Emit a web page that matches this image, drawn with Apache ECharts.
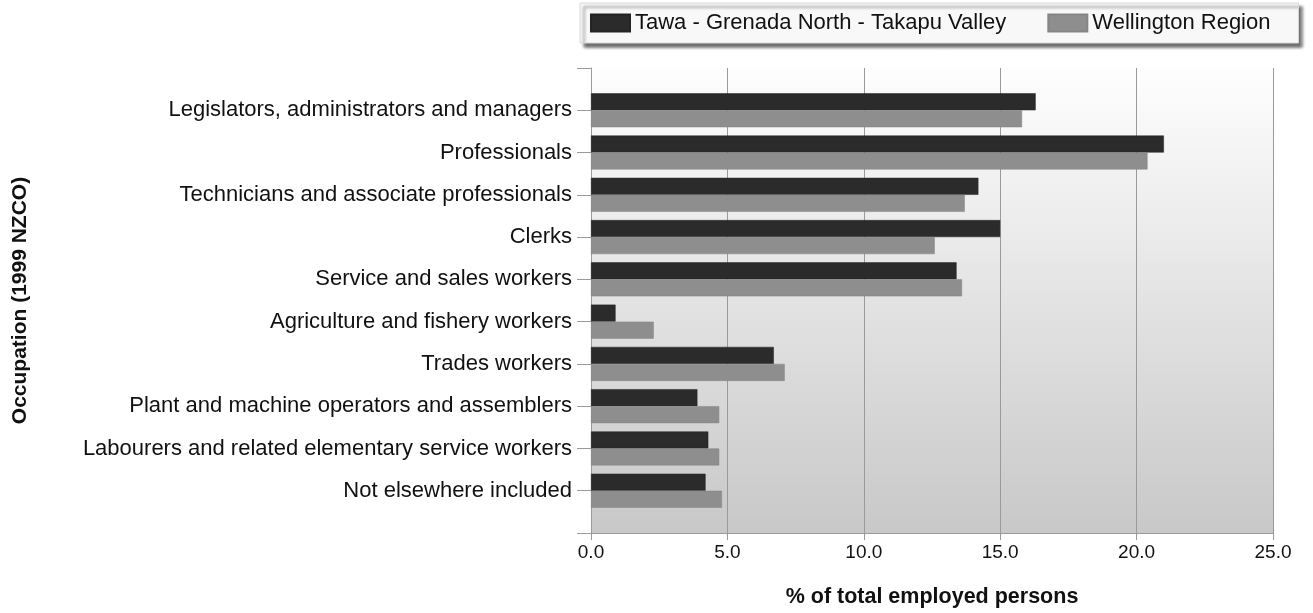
<!DOCTYPE html>
<html>
<head>
<meta charset="utf-8">
<script src="https://cdn.jsdelivr.net/npm/echarts@6/dist/echarts.min.js"></script>
<style>
  html, body { margin: 0; padding: 0; background: #fff; }
  #chart { width: 1313px; height: 613px; }
</style>
</head>
<body>
<div id="chart"></div>
<script>
// Occupation categories (top to bottom)
const categories = [
  'Legislators, administrators and managers',
  'Professionals',
  'Technicians and associate professionals',
  'Clerks',
  'Service and sales workers',
  'Agriculture and fishery workers',
  'Trades workers',
  'Plant and machine operators and assemblers',
  'Labourers and related elementary service workers',
  'Not elsewhere included'
];

// % of total employed persons
const tawaValues = [16.3, 21.0, 14.2, 15.0, 13.4, 0.9, 6.7, 3.9, 4.3, 4.2];
const wellingtonValues = [15.8, 20.4, 13.7, 12.6, 13.6, 2.3, 7.1, 4.7, 4.7, 4.8];

const seriesNames = ['Tawa - Grenada North - Takapu Valley', 'Wellington Region'];
const xTicks = [0, 5, 10, 15, 20, 25];

// Empty slots at both ends give the axis its half-step padding above and below.
const axisCats = [''].concat(categories, ['']);
const pad = arr => [null].concat(arr, [null]);

const FONT = '"Liberation Sans", Arial, sans-serif';

const chart = echarts.init(document.getElementById('chart'));
chart.setOption({
  animation: false,
  textStyle: { fontFamily: FONT },
  legend: {
    left: 580,
    top: 3,
    padding: [9, 28, 9, 10],
    icon: 'rect',
    itemWidth: 39,
    itemHeight: 17,
    itemGap: 41,
    backgroundColor: '#f8f8f8',
    borderColor: '#d8d8d8',
    borderWidth: 1,
    shadowColor: 'rgba(0,0,0,0.6)',
    shadowBlur: 3,
    shadowOffsetX: 4,
    shadowOffsetY: 4,
    textStyle: { fontFamily: FONT, fontSize: 22, color: '#111' },
    data: seriesNames
  },
  grid: {
    left: 591,
    right: 40,
    top: 68,
    bottom: 80,
    show: true,
    borderWidth: 0,
    backgroundColor: new echarts.graphic.LinearGradient(0, 0, 0, 1, [
      { offset: 0, color: '#fefefe' },
      { offset: 1, color: '#c8c8c8' }
    ])
  },
  xAxis: {
    type: 'value',
    min: xTicks[0],
    max: xTicks[xTicks.length - 1],
    interval: 5,
    name: '% of total employed persons',
    nameLocation: 'middle',
    nameGap: 53,
    nameTextStyle: { fontFamily: FONT, fontSize: 21.5, fontWeight: 'bold', color: '#111' },
    axisLine: { show: true, lineStyle: { color: '#9a9a9a', width: 1 } },
    axisTick: { show: true, length: 7, lineStyle: { color: '#9a9a9a' } },
    axisLabel: {
      margin: 10,
      fontFamily: FONT,
      fontSize: 19,
      color: '#111',
      formatter: v => v.toFixed(1)
    },
    splitLine: { show: true, lineStyle: { color: '#9a9a9a', width: 1 } }
  },
  yAxis: {
    type: 'category',
    inverse: true,
    boundaryGap: false,
    data: axisCats,
    name: 'Occupation (1999 NZCO)',
    nameLocation: 'middle',
    nameRotate: 90,
    nameGap: 560,
    nameTextStyle: { fontFamily: FONT, fontSize: 21, fontWeight: 'bold', color: '#111' },
    axisLine: { show: true, lineStyle: { color: '#9a9a9a', width: 1 } },
    axisTick: { show: true, length: 14, interval: 0, lineStyle: { color: '#9a9a9a' } },
    axisLabel: { interval: 0, margin: 19, fontFamily: FONT, fontSize: 22, color: '#111' },
    splitLine: { show: false }
  },
  series: [
    {
      name: seriesNames[0],
      type: 'bar',
      data: pad(tawaValues),
      barWidth: 17,
      barGap: '0%',
      itemStyle: { color: '#2b2b2b', borderColor: '#232323', borderWidth: 0.5 }
    },
    {
      name: seriesNames[1],
      type: 'bar',
      data: pad(wellingtonValues),
      barWidth: 17,
      barGap: '0%',
      itemStyle: { color: '#8e8e8e', borderColor: '#858585', borderWidth: 0.5 }
    }
  ]
});
</script>
</body>
</html>
